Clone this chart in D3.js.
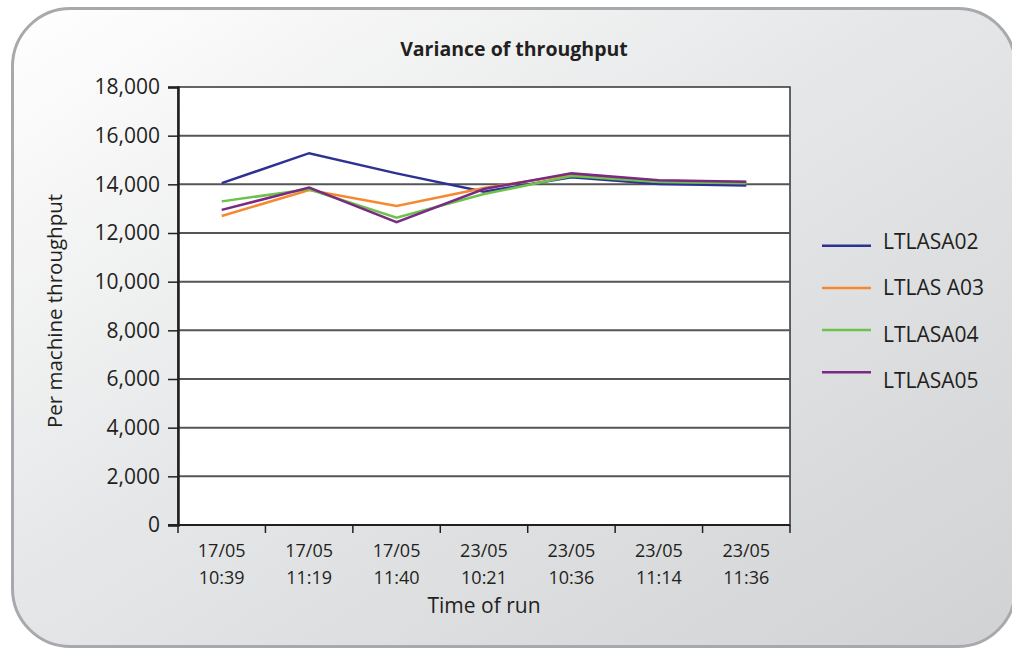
<!DOCTYPE html>
<html>
<head>
<meta charset="utf-8">
<script src="https://cdn.jsdelivr.net/npm/d3@7"></script>
<style>
  html, body { margin: 0; padding: 0; background: #ffffff; }
  svg { display: block; font-family: "Open Sans", sans-serif; }
</style>
</head>
<body>
<div id="chart"></div>
<script>
// data
const runDates = ["17/05", "17/05", "17/05", "23/05", "23/05", "23/05", "23/05"];
const runTimes = ["10:39", "11:19", "11:40", "10:21", "10:36", "11:14", "11:36"];
const seriesNames = ["LTLASA02", "LTLAS A03", "LTLASA04", "LTLASA05"];
const ltlasa02 = [14050, 15280, 14450, 13700, 14290, 14010, 13950];
const ltlasa03 = [12700, 13770, 13110, 13850, 14400, 14150, 14100];
const ltlasa04 = [13300, 13800, 12630, 13600, 14340, 14100, 14040];
const ltlasa05 = [12950, 13870, 12450, 13810, 14450, 14170, 14110];
const yTicks = [0, 2000, 4000, 6000, 8000, 10000, 12000, 14000, 16000, 18000];
const colors = ["#2e3192", "#f7882f", "#6cc24a", "#7b2a83"];

const width = 1012, height = 649;
const plot = {left: 178, right: 790, top: 87, bottom: 525};

const svg = d3.select("#chart").append("svg")
    .attr("width", width)
    .attr("height", height);

// panel background
const grad = svg.append("defs").append("linearGradient")
    .attr("id", "bg")
    .attr("x1", "0%").attr("y1", "0%")
    .attr("x2", "100%").attr("y2", "100%");
grad.append("stop").attr("offset", "0%").attr("stop-color", "#ffffff");
grad.append("stop").attr("offset", "45%").attr("stop-color", "#e6e7e8");
grad.append("stop").attr("offset", "100%").attr("stop-color", "#d1d2d4");

svg.append("rect")
    .attr("x", 12.5).attr("y", 8.5)
    .attr("width", 1003).attr("height", 638)
    .attr("rx", 58).attr("ry", 58)
    .attr("fill", "url(#bg)")
    .attr("stroke", "#a7a9ac")
    .attr("stroke-width", 3);

const categories = d3.range(runDates.length);
const x = d3.scaleBand()
    .domain(categories)
    .range([plot.left, plot.right])
    .padding(0);
const y = d3.scaleLinear()
    .domain([0, 18000])
    .range([plot.bottom, plot.top]);

// plot area
svg.append("rect")
    .attr("x", plot.left).attr("y", plot.top)
    .attr("width", plot.right - plot.left)
    .attr("height", plot.bottom - plot.top)
    .attr("fill", "#ffffff")
    .attr("stroke", "#333333")
    .attr("stroke-width", 1.5);

// gridlines
svg.append("g")
    .selectAll("line")
    .data(yTicks.filter(d => d > 0 && d < 18000))
    .join("line")
        .attr("x1", plot.left).attr("x2", plot.right)
        .attr("y1", d => y(d)).attr("y2", d => y(d))
        .attr("stroke", "#555555")
        .attr("stroke-width", 2);

// y axis
const yAxis = svg.append("g")
    .attr("transform", `translate(${plot.left},0)`)
    .call(d3.axisLeft(y).tickValues(yTicks).tickSize(10).tickPadding(8).tickFormat(d3.format(",")));
yAxis.select(".domain").attr("stroke", "#231f20").attr("stroke-width", 2.5);
yAxis.selectAll(".tick line").attr("stroke", "#231f20").attr("stroke-width", 1.5);
yAxis.selectAll(".tick text")
    .attr("font-size", "21px")
    .attr("font-family", "Open Sans")
    .attr("fill", "#231f20");

// x axis
const bounds = categories.map(c => x(c)).concat([plot.right]);
svg.append("line")
    .attr("x1", plot.left - 10).attr("x2", plot.right)
    .attr("y1", plot.bottom).attr("y2", plot.bottom)
    .attr("stroke", "#231f20").attr("stroke-width", 2);
svg.append("g")
    .selectAll("line")
    .data(bounds)
    .join("line")
        .attr("x1", d => d).attr("x2", d => d)
        .attr("y1", plot.bottom).attr("y2", plot.bottom + 8)
        .attr("stroke", "#231f20")
        .attr("stroke-width", 1.5);

const xLabels = svg.append("g")
    .selectAll("text")
    .data(categories)
    .join("text")
        .attr("text-anchor", "middle")
        .attr("font-size", "18px")
        .attr("fill", "#231f20");
xLabels.append("tspan")
    .attr("x", d => x(d) + x.bandwidth() / 2)
    .attr("y", 557)
    .text(d => runDates[d]);
xLabels.append("tspan")
    .attr("x", d => x(d) + x.bandwidth() / 2)
    .attr("y", 584)
    .text(d => runTimes[d]);

// lines
const allSeries = [ltlasa02, ltlasa03, ltlasa04, ltlasa05];
const line = d3.line()
    .x((d, i) => x(i) + x.bandwidth() / 2)
    .y(d => y(d));
svg.append("g")
    .selectAll("path")
    .data(allSeries)
    .join("path")
        .attr("d", d => line(d))
        .attr("fill", "none")
        .attr("stroke", (d, i) => colors[i])
        .attr("stroke-width", 2.5)
        .attr("stroke-linejoin", "miter");

// title and axis labels
svg.append("text")
    .attr("x", 514).attr("y", 56)
    .attr("text-anchor", "middle")
    .attr("font-size", "19.5px")
    .attr("font-weight", "bold")
    .attr("fill", "#231f20")
    .text("Variance of throughput");
svg.append("text")
    .attr("text-anchor", "middle")
    .attr("transform", "translate(62,311) rotate(-90)")
    .attr("font-size", "20.5px")
    .attr("fill", "#231f20")
    .text("Per machine throughput");
svg.append("text")
    .attr("x", 484).attr("y", 613)
    .attr("text-anchor", "middle")
    .attr("font-size", "21px")
    .attr("fill", "#231f20")
    .text("Time of run");

// legend
const legend = svg.append("g");
legend.selectAll("line")
    .data(seriesNames)
    .join("line")
        .attr("x1", 822).attr("x2", 871)
        .attr("y1", (d, i) => 245.7 + i * 42.2)
        .attr("y2", (d, i) => 245.7 + i * 42.2)
        .attr("stroke", (d, i) => colors[i])
        .attr("stroke-width", 2.5);
legend.selectAll("text")
    .data(seriesNames)
    .join("text")
        .attr("x", 883)
        .attr("y", (d, i) => 248.5 + i * 46.6)
        .attr("font-size", "21px")
        .attr("fill", "#231f20")
        .text(d => d);
</script>
</body>
</html>
